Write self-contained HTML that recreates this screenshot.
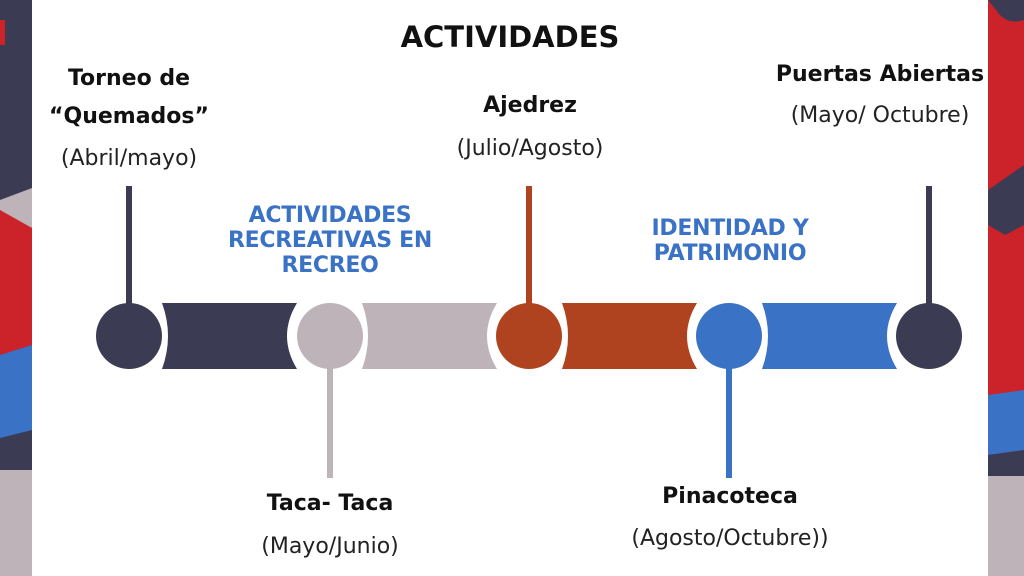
<!DOCTYPE html>
<html><head><meta charset="utf-8"><style>
body{margin:0;width:1024px;height:576px;overflow:hidden;background:#fff;font-family:"DejaVu Sans","Liberation Sans",sans-serif;}
.t{position:absolute;text-align:center;color:#111;white-space:nowrap}
.b{font-weight:bold;font-size:22px}
.n{font-size:22px;color:#222}
.h{position:absolute;text-align:center;font-weight:bold;color:#3a72c6;font-size:22px;line-height:25px;letter-spacing:-0.3px}
</style></head><body>
<svg width="1024" height="576" style="position:absolute;left:0;top:0">
<!-- left strip -->
<rect x="0" y="0" width="32" height="576" fill="#3c3b54"/>
<polygon points="0,200 32,188 32,228 0,215" fill="#bdb3b8"/>
<polygon points="0,210 32,228 32,345 0,355" fill="#cc2229"/>
<polygon points="0,355 32,345 32,430 0,438" fill="#3a72c6"/>
<rect x="0" y="470" width="32" height="106" fill="#bdb3b8"/>
<rect x="0" y="20" width="5" height="25" fill="#cc2229"/>
<!-- right strip -->
<rect x="988" y="0" width="36" height="576" fill="#cc2229"/>
<path d="M988,0 L1024,0 L1024,20 Q1010,25 1000,15 L988,0Z" fill="#3c3b54"/>
<polygon points="988,190 1024,165 1024,225 1005,235 988,225" fill="#3c3b54"/>
<polygon points="988,395 1024,390 1024,450 988,455" fill="#3a72c6"/>
<polygon points="988,455 1024,450 1024,476 988,476" fill="#3c3b54"/>
<rect x="988" y="476" width="36" height="100" fill="#bdb3b8"/>
<!-- bars -->
<path d="M162,303 L297,303 Q277,336 297,369 L162,369 Q174,336 162,303Z" fill="#3c3b54"/>
<path d="M362,303 L497,303 Q477,336 497,369 L362,369 Q374,336 362,303Z" fill="#bdb3b8"/>
<path d="M562,303 L697,303 Q677,336 697,369 L562,369 Q574,336 562,303Z" fill="#b0431f"/>
<path d="M762,303 L897,303 Q877,336 897,369 L762,369 Q774,336 762,303Z" fill="#3a72c6"/>
<!-- stems -->
<rect x="126" y="186" width="6" height="120" fill="#3c3b54"/>
<rect x="327" y="360" width="6" height="118" fill="#bdb3b8"/>
<rect x="526" y="186" width="6" height="120" fill="#b0431f"/>
<rect x="726" y="360" width="6" height="118" fill="#3a72c6"/>
<rect x="926" y="186" width="6" height="120" fill="#3c3b54"/>
<circle cx="129" cy="336" r="33" fill="#3c3b54"/>
<circle cx="330" cy="336" r="33" fill="#bdb3b8"/>
<circle cx="529" cy="336" r="33" fill="#b0431f"/>
<circle cx="729" cy="336" r="33" fill="#3a72c6"/>
<circle cx="929" cy="336" r="33" fill="#3c3b54"/>
</svg>
<div class="t" style="left:310px;width:400px;top:20px;font-weight:bold;font-size:29px">ACTIVIDADES</div>
<div class="t b" style="left:34px;width:190px;top:60px;line-height:38px">Torneo de<br>“Quemados”</div>
<div class="t n" style="left:34px;width:190px;top:146px">(Abril/mayo)</div>
<div class="t b" style="left:430px;width:200px;top:93px">Ajedrez</div>
<div class="t n" style="left:400px;width:260px;top:136px">(Julio/Agosto)</div>
<div class="t b" style="left:750px;width:260px;top:62px">Puertas Abiertas</div>
<div class="t n" style="left:750px;width:260px;top:103px">(Mayo/ Octubre)</div>
<div class="t b" style="left:220px;width:220px;top:491px">Taca- Taca</div>
<div class="t n" style="left:220px;width:220px;top:534px">(Mayo/Junio)</div>
<div class="t b" style="left:620px;width:220px;top:484px">Pinacoteca</div>
<div class="t n" style="left:590px;width:280px;top:526px">(Agosto/Octubre))</div>
<div class="h" style="left:190px;width:280px;top:203px">ACTIVIDADES<br>RECREATIVAS EN<br>RECREO</div>
<div class="h" style="left:610px;width:240px;top:216px">IDENTIDAD Y<br>PATRIMONIO</div>
</body></html>
